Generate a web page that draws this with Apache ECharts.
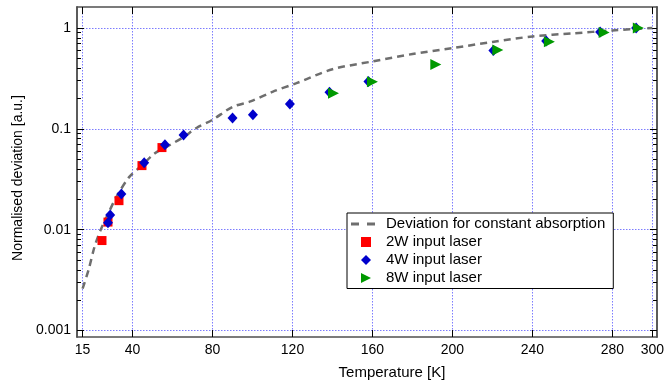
<!DOCTYPE html>
<html>
<head>
<meta charset="utf-8">
<script src="https://cdn.jsdelivr.net/npm/echarts@6/dist/echarts.min.js"></script>
<style>
html,body{margin:0;padding:0;background:#fff;}
#chart{width:667px;height:387px;}
</style>
</head>
<body>
<div id="chart"></div>
<script>
// ---- data ----
const curveT = [15, 18, 21, 24, 28, 32, 38.5, 45, 51, 58, 65.5, 72, 80, 90, 99, 110, 122, 140, 160, 180, 200, 220, 240, 260, 280, 300];
const curveV = [0.0026, 0.0040, 0.0068, 0.0099, 0.0147, 0.0213, 0.0336, 0.044, 0.057, 0.068, 0.083, 0.102, 0.123, 0.165, 0.187, 0.233, 0.284, 0.39, 0.466, 0.552, 0.633, 0.726, 0.825, 0.884, 0.947, 1.0];

const redT = [24.7, 27.7, 33.2, 44.7, 54.7];
const redV = [0.0078, 0.0119, 0.0194, 0.0432, 0.0652];

const blueT = [27.7, 28.8, 34.4, 45.8, 56.2, 65.5, 90, 100.2, 118.7, 138.5, 158, 220.5, 246.9, 273.9, 291.9];
const blueV = [0.0117, 0.0140, 0.0226, 0.0460, 0.0694, 0.0871, 0.128, 0.138, 0.176, 0.231, 0.295, 0.600, 0.743, 0.912, 1.0];

const greenT = [140.5, 160, 191.7, 222.7, 248.5, 275.9, 293];
const greenV = [0.226, 0.293, 0.435, 0.604, 0.731, 0.905, 1.0];

const seriesNames = ['Deviation for constant absorption', '2W input laser', '4W input laser', '8W input laser'];

const xTicks = [15, 40, 80, 120, 160, 200, 240, 280, 300];
const yMajor = [0.001, 0.01, 0.1, 1];
const yMajorLabels = ['0.001', '0.01', '0.1', '1'];
const yMinor = [0.002, 0.003, 0.004, 0.005, 0.006, 0.007, 0.008, 0.009,
                0.02, 0.03, 0.04, 0.05, 0.06, 0.07, 0.08, 0.09,
                0.2, 0.3, 0.4, 0.5, 0.6, 0.7, 0.8, 0.9];

// ---- chart ----
const FONT = '"Liberation Sans", Arial, Helvetica, sans-serif';
const X_MIN = 12.2, X_MAX = 302.3;
const Y_MIN = 0.000862, Y_MAX = 1.616;
const axisLineStyle = { color: '#505050', width: 1.5 };
const gridLine = { show: true, lineStyle: { color: '#7c7cff', type: [1.5, 1.5], width: 1 } };

function pairs(xs, ys) { return xs.map((x, i) => [x, ys[i]]); }

function xAxisDef(pos, main) {
  return {
    type: 'value', position: pos, min: X_MIN, max: X_MAX,
    axisLine: { show: true, onZero: false, lineStyle: axisLineStyle },
    axisTick: { show: true, inside: true, length: 7, customValues: xTicks, lineStyle: { color: '#000', width: 1 } },
    axisLabel: main ? { show: true, customValues: xTicks, color: '#000', fontSize: 14, fontFamily: FONT, margin: 6 } : { show: false },
    splitLine: main ? gridLine : { show: false },
    name: main ? 'Temperature [K]' : '',
    nameLocation: 'middle', nameGap: 28,
    nameTextStyle: { color: '#000', fontSize: 15, fontFamily: FONT, padding: [0, 0, 0, 50] }
  };
}
function yAxisDef(pos, major, main) {
  return {
    type: 'log', position: pos, min: Y_MIN, max: Y_MAX, logBase: 10,
    axisLine: { show: true, onZero: false, lineStyle: axisLineStyle },
    axisTick: { show: true, inside: true, length: major ? 7 : 4, customValues: major ? yMajor : yMinor, lineStyle: { color: '#000', width: 1 } },
    axisLabel: main ? {
      show: true, customValues: yMajor, color: '#000', fontSize: 14, fontFamily: FONT, margin: 6,
      formatter: v => yMajorLabels[Math.round(Math.log10(v)) + 3]
    } : { show: false },
    splitLine: main ? gridLine : { show: false },
    minorTick: { show: false }, minorSplitLine: { show: false },
    name: main ? 'Normalised deviation [a.u.]' : '',
    nameLocation: 'middle', nameGap: 51,
    nameTextStyle: { color: '#000', fontSize: 14, fontFamily: FONT, padding: [0, 12, 0, 0] }
  };
}

const chart = echarts.init(document.getElementById('chart'), null, { renderer: 'canvas' });
chart.setOption({
  animation: false,
  backgroundColor: '#fff',
  textStyle: { fontFamily: FONT },
  grid: { left: 77, right: 10, top: 7, bottom: 50, containLabel: false },
  xAxis: [xAxisDef('bottom', true), xAxisDef('top', false)],
  yAxis: [yAxisDef('left', true, true), yAxisDef('left', false, false), yAxisDef('right', true, false), yAxisDef('right', false, false)],
  legend: {
    orient: 'vertical', left: 347, top: 213,
    backgroundColor: '#fff', borderColor: '#000', borderWidth: 1,
    padding: [3.5, 8, 3, 4], itemGap: 3, itemWidth: 30, itemHeight: 10,
    selectedMode: false,
    textStyle: { color: '#000', fontSize: 15, fontFamily: FONT },
    data: [
      { name: seriesNames[0], icon: 'path://M0,0h8v3h-8zM16,0h8v3h-8zM29.99,1h0.01v0.01h-0.01z' },
      { name: seriesNames[1], icon: 'path://M0,0h10v10h-10z' },
      { name: seriesNames[2], icon: 'path://M5,0L10,5L5,10L0,5z' },
      { name: seriesNames[3], icon: 'path://M0,0L10,5L0,10z' }
    ]
  },
  series: [
    {
      name: seriesNames[0], type: 'line', xAxisIndex: 0, yAxisIndex: 0,
      data: pairs(curveT, curveV), symbol: 'none', smooth: 0.3,
      itemStyle: { color: '#6e6e6e' },
      lineStyle: { color: '#6e6e6e', width: 2.5, type: [7, 5] },
      z: 2
    },
    {
      name: seriesNames[1], type: 'scatter', xAxisIndex: 0, yAxisIndex: 0,
      data: pairs(redT, redV), symbol: 'rect', symbolSize: 9,
      itemStyle: { color: '#ff0000', opacity: 1 }, z: 3
    },
    {
      name: seriesNames[2], type: 'scatter', xAxisIndex: 0, yAxisIndex: 0,
      data: pairs(blueT, blueV), symbol: 'diamond', symbolSize: [10, 11],
      itemStyle: { color: '#0000cc', opacity: 1 }, z: 4
    },
    {
      name: seriesNames[3], type: 'scatter', xAxisIndex: 0, yAxisIndex: 0,
      data: pairs(greenT, greenV), symbol: 'triangle', symbolRotate: -90, symbolSize: [11, 11],
      itemStyle: { color: '#009900', opacity: 1 }, z: 5
    }
  ]
});
</script>
</body>
</html>
